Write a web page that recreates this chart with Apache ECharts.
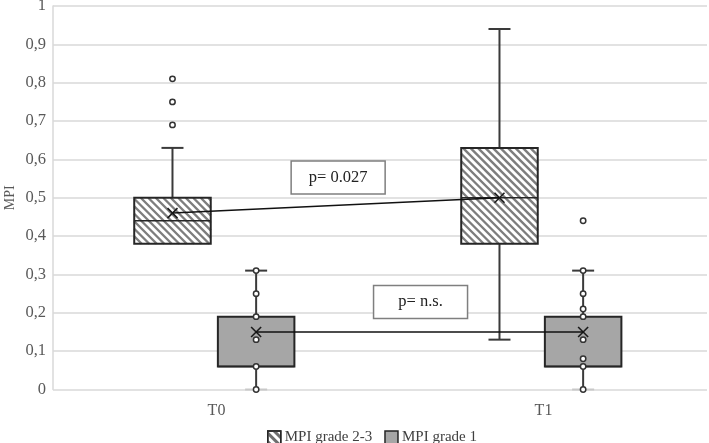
<!DOCTYPE html>
<html>
<head>
<meta charset="utf-8">
<script src="https://cdn.jsdelivr.net/npm/echarts@6/dist/echarts.min.js"></script>
<style>html,body{margin:0;padding:0;background:#fff;}#c{width:709px;height:443px;}</style>
</head>
<body>
<div id="c"></div>
<script>
// ---- data ----
const categories = ['T0', 'T1'];
const yTickLabels = ['0', '0,1', '0,2', '0,3', '0,4', '0,5', '0,6', '0,7', '0,8', '0,9', '1'];

const g23Min    = [0.38, 0.13];
const g23Q1     = [0.38, 0.38];
const g23Median = [0.44, 0.50];
const g23Q3     = [0.50, 0.63];
const g23Max    = [0.63, 0.94];
const g23Mean   = [0.46, 0.50];
const g23Points = [[0.81, 0.75, 0.69], []];

const g1Min    = [0, 0];
const g1Q1     = [0.06, 0.06];
const g1Median = [0.06, 0.06];
const g1Q3     = [0.19, 0.19];
const g1Max    = [0.31, 0.31];
const g1Mean   = [0.15, 0.15];
const g1Points = [[0.31, 0.25, 0.19, 0.13, 0.06, 0], [0.44, 0.31, 0.25, 0.21, 0.19, 0.13, 0.08, 0.06, 0]];

const pLabels = ['p= 0.027', 'p= n.s.'];
const pLabelValue = [0.5525, 0.228];
const pLabelCat = [0, 0];
const pLabelShift = [0.372, 0.624];

const seriesNames = ['MPI grade 2-3', 'MPI grade 1'];

// ---- styling / layout ----
const FONT = 'Liberation Serif';
const groups = [
  { name: seriesNames[0], min: g23Min, q1: g23Q1, med: g23Median, q3: g23Q3, max: g23Max, mean: g23Mean, pts: g23Points,
    offset: -0.1346, half: 0.117, fill: '#ffffff', hatch: true },
  { name: seriesNames[1], min: g1Min, q1: g1Q1, med: g1Median, q3: g1Q3, max: g1Max, mean: g1Mean, pts: g1Points,
    offset: 0.1212, half: 0.117, fill: '#a6a6a6', hatch: false }
];

function hatchLines(x0, y0, w, h, period, style) {
  const out = [];
  for (let t = x0 - h; t <= x0 + w; t += period) {
    const lo = Math.max(0, x0 - t);
    const hi = Math.min(h, x0 + w - t);
    if (hi > lo) {
      out.push({ type: 'line', shape: { x1: t + lo, y1: y0 + lo, x2: t + hi, y2: y0 + hi }, style: style, silent: true });
    }
  }
  return out;
}

function makeBoxRender(g) {
  return function (params, api) {
    const i = params.dataIndex;
    const band = api.size([1, 0])[0];
    const base = api.coord([i, 0]);
    const cx = base[0] + g.offset * band;
    const hw = g.half * band;
    const Y = v => api.coord([i, v])[1];
    const dark = '#333333';
    const children = [];
    const cap = 11;
    const wStyle = { stroke: '#3a3a3a', lineWidth: 2 };
    // whiskers
    if (g.max[i] > g.q3[i]) {
      children.push({ type: 'line', shape: { x1: cx, y1: Y(g.q3[i]), x2: cx, y2: Y(g.max[i]) }, style: wStyle });
    }
    children.push({ type: 'line', shape: { x1: cx - cap, y1: Y(g.max[i]), x2: cx + cap, y2: Y(g.max[i]) }, style: wStyle });
    if (g.min[i] < g.q1[i]) {
      children.push({ type: 'line', shape: { x1: cx, y1: Y(g.q1[i]), x2: cx, y2: Y(g.min[i]) }, style: wStyle });
      children.push({ type: 'line', shape: { x1: cx - cap, y1: Y(g.min[i]), x2: cx + cap, y2: Y(g.min[i]) },
        style: { stroke: g.min[i] === 0 ? '#c8c8c8' : '#3a3a3a', lineWidth: 2 } });
    }
    // box
    const yTop = Y(g.q3[i]);
    const yBot = Y(g.q1[i]);
    children.push({ type: 'rect', shape: { x: cx - hw, y: yTop, width: 2 * hw, height: yBot - yTop }, style: { fill: g.fill } });
    if (g.hatch) {
      hatchLines(cx - hw, yTop, 2 * hw, yBot - yTop, 7.5, { stroke: '#7d7d7d', lineWidth: 2.4 }).forEach(l => children.push(l));
    }
    children.push({ type: 'rect', shape: { x: cx - hw, y: yTop, width: 2 * hw, height: yBot - yTop }, style: { fill: 'none', stroke: '#262626', lineWidth: 2 } });
    // median
    children.push({ type: 'line', shape: { x1: cx - hw, y1: Y(g.med[i]), x2: cx + hw, y2: Y(g.med[i]) }, style: { stroke: '#262626', lineWidth: 1.6 } });
    // points
    g.pts[i].forEach(v => {
      children.push({ type: 'circle', shape: { cx: cx, cy: Y(v), r: 2.7 }, style: { fill: '#ffffff', stroke: dark, lineWidth: 1.5 } });
    });
    // mean X
    const ym = Y(g.mean[i]);
    const s = 5;
    children.push({ type: 'line', shape: { x1: cx - s, y1: ym - s, x2: cx + s, y2: ym + s }, style: { stroke: '#1a1a1a', lineWidth: 1.6 } });
    children.push({ type: 'line', shape: { x1: cx - s, y1: ym + s, x2: cx + s, y2: ym - s }, style: { stroke: '#1a1a1a', lineWidth: 1.6 } });
    return { type: 'group', children: children };
  };
}

function meanLineRender(params, api) {
  const band = api.size([1, 0])[0];
  const children = [];
  groups.forEach(g => {
    const pts = categories.map((c, i) => {
      const p = api.coord([i, g.mean[i]]);
      return [p[0] + g.offset * band, p[1]];
    });
    children.push({ type: 'polyline', shape: { points: pts }, style: { stroke: '#111111', lineWidth: 1.5, fill: 'none' } });
  });
  return { type: 'group', children: children };
}

function annotRender(params, api) {
  const i = params.dataIndex;
  const band = api.size([1, 0])[0];
  const p = api.coord([pLabelCat[i], pLabelValue[i]]);
  const cx = p[0] + pLabelShift[i] * band;
  const cy = p[1];
  const w = 94, h = 33;
  return {
    type: 'group',
    children: [
      { type: 'rect', shape: { x: cx - w / 2, y: cy - h / 2, width: w, height: h }, style: { fill: '#ffffff', stroke: '#7f7f7f', lineWidth: 1.5 } },
      { type: 'text', x: cx, y: cy, style: { text: pLabels[i], fill: '#222222', font: '16.5px "Liberation Serif"', align: 'center', verticalAlign: 'middle' } }
    ]
  };
}

const chart = echarts.init(document.getElementById('c'), null, { renderer: 'canvas' });

const series = groups.map(g => ({
  type: 'custom',
  name: g.name,
  renderItem: makeBoxRender(g),
  data: categories.map((c, i) => [i, g.max[i]]),
  encode: { x: 0, y: 1 },
  itemStyle: { color: g.fill },
  z: 2
}));
series.push({
  type: 'custom',
  name: 'meanLines',
  renderItem: meanLineRender,
  data: [[0, 0]],
  encode: { x: 0, y: 1 },
  silent: true,
  z: 3
});
series.push({
  type: 'custom',
  name: 'pLabels',
  renderItem: annotRender,
  data: pLabels.map((t, i) => [pLabelCat[i], pLabelValue[i]]),
  encode: { x: 0, y: 1 },
  silent: true,
  z: 4
});

chart.setOption({
  animation: false,
  backgroundColor: '#ffffff',
  grid: { left: 53, right: 2, top: 6, bottom: 53.5, containLabel: false, outerBoundsMode: 'none' },
  legend: {
    left: 262,
    top: 425,
    itemWidth: 13,
    itemHeight: 13,
    itemGap: 12,
    icon: 'rect',
    textStyle: { fontFamily: FONT, fontSize: 15, color: '#404040', padding: [0, 0, 0, -1] },
    data: [
      { name: seriesNames[0], itemStyle: { color: '#ffffff', borderColor: '#262626', borderWidth: 1.5,
        decal: { symbol: 'rect', symbolSize: 1, dashArrayX: [1, 0], dashArrayY: [3, 3], rotation: Math.PI / 4, color: '#6e6e6e' } } },
      { name: seriesNames[1], itemStyle: { color: '#a6a6a6', borderColor: '#262626', borderWidth: 1.5 } }
    ]
  },
  xAxis: {
    type: 'category',
    data: categories,
    axisLine: { show: false },
    axisTick: { show: false },
    axisLabel: { fontFamily: FONT, fontSize: 16, color: '#595959', margin: 13 },
    splitLine: { show: false }
  },
  yAxis: {
    type: 'value',
    min: 0,
    max: 1,
    interval: 0.1,
    name: 'MPI',
    nameLocation: 'middle',
    nameGap: 36,
    nameMoveOverlap: false,
    nameTextStyle: { fontFamily: FONT, fontSize: 14, color: '#595959' },
    axisLine: { show: true, lineStyle: { color: '#d9d9d9', width: 1.5 } },
    axisTick: { show: false },
    axisLabel: {
      fontFamily: FONT, fontSize: 16.5, color: '#595959', margin: 7,
      formatter: v => yTickLabels[Math.round(v * 10)]
    },
    splitLine: { lineStyle: { color: '#d9d9d9', width: 1.5 } }
  },
  series: series
});
</script>
</body>
</html>
